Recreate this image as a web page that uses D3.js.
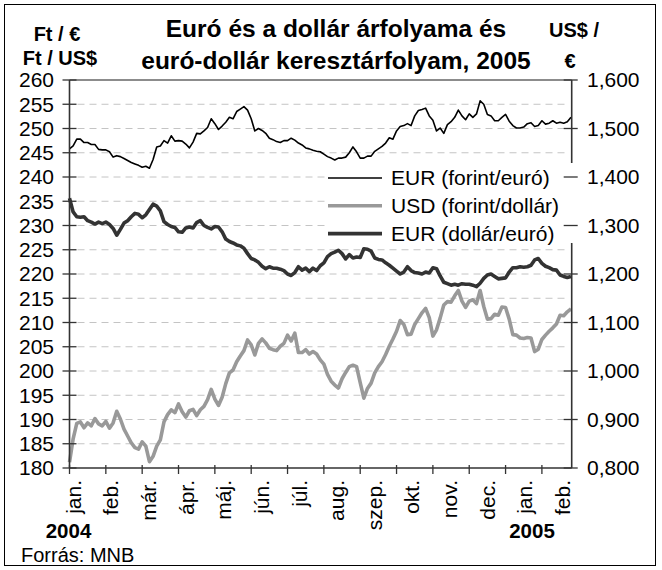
<!DOCTYPE html>
<html>
<head>
<meta charset="utf-8">
<script src="https://cdn.jsdelivr.net/npm/d3@7"></script>
<style>
  body { margin: 0; background: #fff; }
  text { font-family: "Liberation Sans", Arial, sans-serif; fill: #000; }
</style>
</head>
<body>
<svg width="662" height="570"></svg>
<script>
// month labels on the x axis (2004 jan. .. 2005 feb.)
var monthLabels = ['jan.', 'feb.', 'már.', 'ápr.', 'máj.', 'jún.', 'júl.', 'aug.', 'szep.', 'okt.', 'nov.', 'dec.', 'jan.', 'feb.'];
var leftTicks = [180, 185, 190, 195, 200, 205, 210, 215, 220, 225, 230, 235, 240, 245, 250, 255, 260];
var rightTicks = [0.8, 0.9, 1.0, 1.1, 1.2, 1.3, 1.4, 1.5, 1.6];

// readings, one every tenth of a month from the start of jan. 2004
var sampleMonth = d3.range(139).map(function(k) { return k / 10; });

// EUR (forint/euró), left axis
var eurHuf = [
  245.8, 246.4, 247.8, 247.8, 247.1, 247.1, 246.7, 246.7, 245.7, 245.6,
  245.6, 245.2, 244.1, 244.4, 244.2, 243.8, 243.4, 243.0, 242.7, 242.4,
  242.0, 242.2, 241.8, 243.6, 246.2, 246.4, 247.5, 247.0, 248.5, 247.4,
  247.5, 247.4, 246.8, 246.0, 247.2, 249.0, 248.9, 249.5, 250.2, 252.0,
  251.0, 249.8, 250.5, 251.3, 252.3, 252.0, 253.5, 254.0, 254.5, 253.8,
  252.0, 249.5, 250.0, 249.6, 249.0, 248.0, 247.7, 247.3, 247.1, 247.5,
  247.5, 248.0, 247.6, 247.0, 246.6, 246.0, 245.8, 245.5, 245.3, 245.2,
  244.7, 244.2, 243.9, 243.5, 243.9, 243.9, 244.1, 245.0, 246.2, 245.2,
  243.9, 243.9, 244.3, 244.3, 245.3, 245.8, 246.3, 247.0, 248.1, 247.8,
  249.5, 250.4, 250.6, 251.0, 250.6, 252.6, 253.7, 253.9, 254.2, 252.6,
  251.7, 249.5, 250.1, 249.0, 250.8, 251.4, 252.3, 253.8, 252.6, 251.8,
  253.0, 252.3, 253.0, 255.7, 255.0, 252.9, 252.6, 251.6, 251.6, 252.3,
  252.9, 251.5, 250.6, 250.1, 250.1, 250.3, 251.0, 251.2, 250.4, 250.6,
  251.6, 250.9, 251.1, 251.6, 251.1, 251.3, 251.1, 251.4, 252.3
];

// USD (forint/dollár), left axis
var usdHuf = [
  181.2, 186.0, 189.2, 189.5, 188.3, 189.3, 188.7, 190.2, 189.1, 188.7,
  189.6, 188.2, 189.3, 191.7, 190.1, 188.0, 186.6, 185.2, 184.2, 183.9,
  185.4, 184.5, 181.3, 182.4, 184.5, 185.8, 189.5, 191.0, 192.0, 191.4,
  193.2, 191.6, 190.5, 191.8, 192.1, 190.8, 192.0, 192.7, 194.1, 196.2,
  194.2, 192.9, 194.6, 197.4, 199.6, 200.2, 201.9, 203.1, 204.2, 206.4,
  205.4, 203.3, 205.7, 206.6, 205.8, 204.7, 204.4, 204.2, 205.1, 205.7,
  207.4, 206.2, 207.8, 203.8, 203.8, 204.4, 203.5, 204.0, 203.5, 202.3,
  201.4, 199.3, 197.9, 197.1, 196.5, 198.4, 199.7, 200.9, 201.2, 200.9,
  197.6, 194.4, 196.4, 197.5, 199.6, 200.9, 201.9, 203.4, 205.1, 206.6,
  208.2, 210.4, 209.6, 207.5, 207.6, 209.6, 210.8, 212.0, 212.9, 211.0,
  207.2, 208.5, 210.9, 213.6, 214.3, 214.2, 215.5, 216.6, 214.4, 213.1,
  214.4, 214.7, 213.9, 216.6, 213.3, 210.7, 210.8, 211.7, 211.5, 213.2,
  213.1, 210.7, 207.5, 207.4, 206.8, 206.7, 206.9, 206.8, 204.0, 204.5,
  206.5, 207.4, 208.2, 208.9, 209.7, 211.5, 211.4, 212.2, 212.8
];

// EUR (dollár/euró), right axis
var eurUsd = [
  1.356, 1.328, 1.318, 1.317, 1.318, 1.310, 1.307, 1.303, 1.307, 1.304,
  1.307, 1.302, 1.294, 1.280, 1.292, 1.305, 1.310, 1.318, 1.325, 1.323,
  1.316, 1.322, 1.333, 1.344, 1.340, 1.330, 1.308, 1.302, 1.298, 1.296,
  1.287, 1.286, 1.295, 1.297, 1.295, 1.306, 1.310, 1.300, 1.296, 1.293,
  1.298, 1.297, 1.287, 1.272, 1.267, 1.264, 1.260, 1.258, 1.253, 1.242,
  1.232, 1.229, 1.224, 1.216, 1.211, 1.215, 1.212, 1.212, 1.210, 1.207,
  1.200, 1.197, 1.203, 1.215, 1.208, 1.212, 1.205, 1.212, 1.207, 1.217,
  1.223, 1.236, 1.242, 1.245, 1.249, 1.242, 1.231, 1.240, 1.233, 1.235,
  1.234, 1.252, 1.251, 1.247, 1.233, 1.230, 1.229, 1.223, 1.218, 1.212,
  1.206, 1.200, 1.204, 1.215, 1.207, 1.203, 1.202, 1.200, 1.204, 1.202,
  1.213, 1.211, 1.196, 1.183, 1.180, 1.177, 1.179, 1.177, 1.180, 1.179,
  1.179, 1.177, 1.174, 1.181, 1.191, 1.198, 1.200, 1.195, 1.190, 1.191,
  1.192, 1.204, 1.213, 1.213, 1.215, 1.214, 1.215, 1.218, 1.229, 1.232,
  1.222, 1.216, 1.213, 1.209, 1.208, 1.198, 1.195, 1.193, 1.195
];

var series = [
  { name: 'EUR (forint/euró)',    values: eurHuf, axis: 'left',  color: '#000',    width: 1.6 },
  { name: 'USD (forint/dollár)',  values: usdHuf, axis: 'left',  color: '#999999', width: 3.6 },
  { name: 'EUR (dollár/euró)',    values: eurUsd, axis: 'right', color: '#333333', width: 3.6 }
];

var svg = d3.select('svg'),
    plotL = 69.5, plotR = 571.7, plotT = 80, plotB = 468,
    x = d3.scaleLinear().domain([0, 13.82]).range([plotL, plotR]),
    yL = d3.scaleLinear().domain([180, 260]).range([plotB, plotT]),
    yR = d3.scaleLinear().domain([0.8, 1.6]).range([plotB, plotT]),
    labelX = d3.scaleLinear().domain([0, 13]).range([80.7, 570]),
    fmtR = function(v) { return d3.format('.3f')(v).replace('.', ','); };

// outer frame
svg.append('rect')
   .attr('x', 4.5).attr('y', 4.5).attr('width', 651).attr('height', 561)
   .attr('fill', '#fff').attr('stroke', '#000').attr('stroke-width', 1);

// gridlines
svg.append('g').selectAll('line')
   .data(leftTicks.filter(function(d) { return d > 180 && d < 260; }))
   .enter().append('line')
     .attr('x1', plotL + 8).attr('x2', plotR - 4)
     .attr('y1', function(d) { return yL(d); })
     .attr('y2', function(d) { return yL(d); })
     .attr('stroke', '#c4c4c4')
     .attr('stroke-dasharray', '7,5');

svg.append('line')
   .attr('x1', plotL).attr('x2', plotR)
   .attr('y1', yL(260)).attr('y2', yL(260))
   .attr('stroke', '#8c8c8c').attr('stroke-width', 2);

// series lines
series.forEach(function(s) {
  var yS = s.axis === 'left' ? yL : yR;
  var line = d3.line()
               .x(function(d, i) { return x(sampleMonth[i]); })
               .y(function(d) { return yS(d); });
  svg.append('path')
     .datum(s.values)
     .attr('d', line)
     .attr('fill', 'none')
     .attr('stroke', s.color)
     .attr('stroke-width', s.width)
     .attr('stroke-linejoin', 'round');
});

// axis lines
var axisColor = '#333';
svg.append('line').attr('x1', plotL).attr('x2', plotL).attr('y1', plotT).attr('y2', plotB)
   .attr('stroke', axisColor).attr('stroke-width', 1.6);
svg.append('line').attr('x1', plotR).attr('x2', plotR).attr('y1', plotT).attr('y2', plotB)
   .attr('stroke', axisColor).attr('stroke-width', 1.6);
svg.append('line').attr('x1', plotL).attr('x2', plotR).attr('y1', plotB).attr('y2', plotB)
   .attr('stroke', axisColor).attr('stroke-width', 1.6);

// legend box (sits over the plot and right axis line)
var legend = svg.append('g');
legend.append('rect')
      .attr('x', 325).attr('y', 163).attr('width', 249).attr('height', 80)
      .attr('fill', '#fff');

// tick marks
svg.append('g').selectAll('line')
   .data(leftTicks).enter().append('line')
     .attr('x1', plotL - 7).attr('x2', plotL + 7)
     .attr('y1', function(d) { return yL(d); })
     .attr('y2', function(d) { return yL(d); })
     .attr('stroke', axisColor).attr('stroke-width', 1.3);

svg.append('g').selectAll('line')
   .data(rightTicks).enter().append('line')
     .attr('x1', plotR - 8).attr('x2', plotR + 6)
     .attr('y1', function(d) { return yR(d); })
     .attr('y2', function(d) { return yR(d); })
     .attr('stroke', axisColor).attr('stroke-width', 1.3);

svg.append('g').selectAll('line')
   .data(d3.range(monthLabels.length)).enter().append('line')
     .attr('x1', function(d) { return x(d); })
     .attr('x2', function(d) { return x(d); })
     .attr('y1', plotB - 3).attr('y2', plotB + 6)
     .attr('stroke', axisColor).attr('stroke-width', 1.3);

// tick labels
svg.append('g').selectAll('text')
   .data(leftTicks).enter().append('text')
     .attr('x', 54)
     .attr('y', function(d) { return yL(d); })
     .attr('dy', '0.35em')
     .attr('text-anchor', 'end')
     .style('font-size', '21px')
     .text(function(d) { return d; });

svg.append('g').selectAll('text')
   .data(rightTicks).enter().append('text')
     .attr('x', 587)
     .attr('y', function(d) { return yR(d); })
     .attr('dy', '0.35em')
     .style('font-size', '21px')
     .text(fmtR);

svg.append('g').selectAll('text')
   .data(monthLabels).enter().append('text')
     .attr('transform', function(d, i) { return 'translate(' + labelX(i) + ',480) rotate(-90)'; })
     .attr('text-anchor', 'end')
     .style('font-size', '21px')
     .text(function(d) { return d; });

// legend entries
series.forEach(function(s, i) {
  var ly = 178 + i * 27.8;
  legend.append('line')
        .attr('x1', 328).attr('x2', 382).attr('y1', ly).attr('y2', ly)
        .attr('stroke', s.color).attr('stroke-width', s.width);
  legend.append('text')
        .attr('x', 391).attr('y', ly + 7)
        .style('font-size', '21px')
        .text(s.name);
});

// titles and captions
var title = svg.append('text')
               .attr('x', 336).attr('text-anchor', 'middle')
               .style('font-size', '24.5px').style('font-weight', 'bold');
title.append('tspan').attr('x', 336).attr('y', 37).text('Euró és a dollár árfolyama és');
title.append('tspan').attr('x', 336).attr('y', 69).text('euró-dollár keresztárfolyam, 2005');

var unitL = svg.append('text').attr('text-anchor', 'middle')
               .style('font-size', '20px').style('font-weight', 'bold');
unitL.append('tspan').attr('x', 57).attr('y', 41).text('Ft / €');
unitL.append('tspan').attr('x', 60).attr('y', 65).text('Ft / US$');

var unitR = svg.append('text').attr('text-anchor', 'middle')
               .style('font-size', '20px').style('font-weight', 'bold');
unitR.append('tspan').attr('x', 574).attr('y', 37).text('US$ /');
unitR.append('tspan').attr('x', 570).attr('y', 68).text('€');

svg.append('text').attr('x', 68.5).attr('y', 538).attr('text-anchor', 'middle')
   .style('font-size', '20.5px').style('font-weight', 'bold').text('2004');
svg.append('text').attr('x', 532).attr('y', 538).attr('text-anchor', 'middle')
   .style('font-size', '20.5px').style('font-weight', 'bold').text('2005');

svg.append('text').attr('x', 21).attr('y', 562)
   .style('font-size', '20px').text('Forrás: MNB');
</script>
</body>
</html>
